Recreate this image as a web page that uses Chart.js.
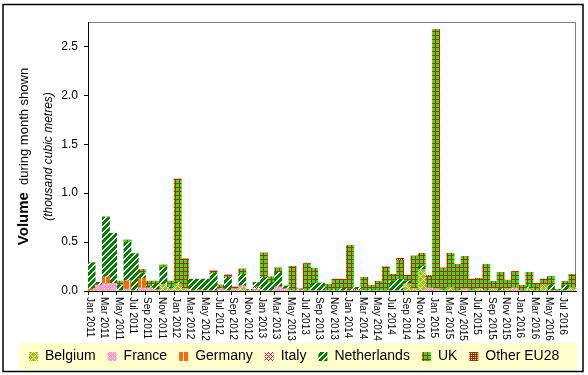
<!DOCTYPE html>
<html>
<head>
<meta charset="utf-8">
<script src="https://cdn.jsdelivr.net/npm/chart.js@4/dist/chart.umd.min.js"></script>
<style>
  body { margin: 0; background: #fff; }
  canvas { display: block; }
</style>
</head>
<body>
<canvas id="chart" width="588" height="375"></canvas>
<script>
// Monthly volumes (thousand cubic metres), Jan 2011 - Aug 2016
const months = [
    'Jan 2011', 'Feb 2011', 'Mar 2011', 'Apr 2011', 'May 2011', 'Jun 2011', 'Jul 2011', 'Aug 2011', 'Sep 2011', 'Oct 2011', 'Nov 2011', 'Dec 2011',
    'Jan 2012', 'Feb 2012', 'Mar 2012', 'Apr 2012', 'May 2012', 'Jun 2012', 'Jul 2012', 'Aug 2012', 'Sep 2012', 'Oct 2012', 'Nov 2012', 'Dec 2012',
    'Jan 2013', 'Feb 2013', 'Mar 2013', 'Apr 2013', 'May 2013', 'Jun 2013', 'Jul 2013', 'Aug 2013', 'Sep 2013', 'Oct 2013', 'Nov 2013', 'Dec 2013',
    'Jan 2014', 'Feb 2014', 'Mar 2014', 'Apr 2014', 'May 2014', 'Jun 2014', 'Jul 2014', 'Aug 2014', 'Sep 2014', 'Oct 2014', 'Nov 2014', 'Dec 2014',
    'Jan 2015', 'Feb 2015', 'Mar 2015', 'Apr 2015', 'May 2015', 'Jun 2015', 'Jul 2015', 'Aug 2015', 'Sep 2015', 'Oct 2015', 'Nov 2015', 'Dec 2015',
    'Jan 2016', 'Feb 2016', 'Mar 2016', 'Apr 2016', 'May 2016', 'Jun 2016', 'Jul 2016', 'Aug 2016'
];

const belgium = [
    0, 0, 0, 0, 0, 0, 0, 0, 0, 0, 0.068, 0.02,
    0.07, 0.02, 0, 0, 0, 0, 0, 0, 0, 0.03, 0.005, 0.01,
    0, 0, 0, 0, 0, 0, 0, 0, 0, 0, 0, 0,
    0, 0, 0, 0, 0, 0, 0, 0, 0.07, 0.02, 0.214, 0,
    0, 0, 0.03, 0, 0, 0, 0.02, 0, 0.02, 0, 0.02, 0,
    0, 0.02, 0, 0.06, 0, 0, 0, 0.03
];
const france = [
    0, 0.06, 0.078, 0.078, 0, 0.02, 0, 0.03, 0.03, 0.01, 0, 0,
    0, 0, 0, 0.01, 0, 0, 0.02, 0, 0.02, 0.02, 0, 0,
    0, 0, 0.04, 0.02, 0, 0.01, 0, 0, 0, 0, 0, 0,
    0, 0, 0, 0, 0, 0, 0, 0, 0, 0, 0, 0.03,
    0.02, 0, 0, 0, 0.02, 0, 0, 0, 0, 0, 0, 0.03,
    0, 0, 0, 0, 0, 0, 0, 0
];
const germany = [
    0.02, 0, 0.065, 0, 0, 0.085, 0, 0.10, 0, 0, 0, 0,
    0, 0, 0, 0, 0, 0, 0, 0, 0, 0, 0, 0,
    0, 0, 0, 0, 0, 0, 0, 0, 0, 0, 0, 0,
    0, 0, 0, 0, 0, 0, 0, 0, 0, 0, 0, 0,
    0, 0, 0, 0, 0, 0, 0, 0, 0, 0, 0, 0,
    0, 0, 0, 0, 0, 0, 0, 0
];
const italy = [
    0, 0, 0, 0, 0, 0, 0, 0, 0, 0, 0, 0,
    0, 0, 0, 0, 0, 0, 0, 0, 0, 0, 0, 0.03,
    0, 0, 0, 0, 0, 0, 0, 0, 0, 0, 0, 0,
    0, 0.017, 0, 0, 0, 0, 0, 0, 0, 0, 0, 0,
    0, 0, 0, 0, 0, 0, 0, 0, 0, 0, 0, 0,
    0, 0, 0, 0, 0, 0, 0, 0
];
const netherlands = [
    0.266, 0.028, 0.612, 0.512, 0.06, 0.395, 0.38, 0.05, 0.02, 0.06, 0.17, 0.02,
    0.02, 0, 0.12, 0.11, 0.12, 0.18, 0.01, 0.14, 0, 0.12, 0.01, 0.045,
    0.14, 0.09, 0.15, 0.03, 0, 0.01, 0, 0.08, 0.08, 0, 0.01, 0.03,
    0.02, 0.02, 0, 0.01, 0, 0, 0.10, 0.12, 0.03, 0, 0.04, 0,
    0, 0, 0, 0, 0, 0, 0, 0, 0, 0.02, 0, 0,
    0, 0.02, 0, 0, 0.06, 0, 0.06, 0
];
const uk = [
    0, 0, 0, 0, 0.04, 0.02, 0, 0.04, 0.05, 0.03, 0.027, 0.06,
    1.053, 0.307, 0, 0, 0, 0.024, 0.03, 0.023, 0.02, 0.054, 0, 0,
    0.248, 0.053, 0.045, 0, 0.25, 0, 0.28, 0.15, 0, 0.068, 0.11, 0.09,
    0.446, 0, 0.14, 0.048, 0.098, 0.245, 0.07, 0.19, 0.06, 0.337, 0.131, 0.11,
    2.653, 0.235, 0.355, 0.27, 0.334, 0.12, 0.11, 0.27, 0.078, 0.17, 0.09, 0.17,
    0.058, 0.15, 0.078, 0.06, 0.09, 0.017, 0.038, 0.14
];
const otherEU28 = [
    0, 0, 0, 0, 0, 0, 0, 0, 0, 0, 0, 0,
    0, 0, 0, 0, 0, 0, 0, 0, 0, 0, 0, 0,
    0, 0, 0, 0, 0, 0, 0, 0, 0, 0, 0, 0,
    0, 0, 0, 0, 0, 0, 0, 0.025, 0, 0, 0, 0.02,
    0, 0, 0, 0, 0, 0, 0, 0, 0, 0, 0, 0,
    0, 0, 0, 0, 0, 0, 0, 0
];

const FONT = '"Liberation Sans", Arial, sans-serif';

// small pixel tiles, Excel-like fill patterns
function hexRgb(h) {
    return [parseInt(h.slice(1, 3), 16), parseInt(h.slice(3, 5), 16), parseInt(h.slice(5, 7), 16)];
}
function makePattern(w, h, fn) {
    const c = document.createElement('canvas');
    c.width = w; c.height = h;
    const g = c.getContext('2d');
    const img = g.createImageData(w, h);
    for (let y = 0; y < h; y++) {
        for (let x = 0; x < w; x++) {
            const [r, gg, b] = hexRgb(fn(x, y));
            const k = (y * w + x) * 4;
            img.data[k] = r; img.data[k + 1] = gg; img.data[k + 2] = b; img.data[k + 3] = 255;
        }
    }
    g.putImageData(img, 0, 0);
    return g.createPattern(c, 'repeat');
}

const ctx = document.getElementById('chart').getContext('2d');
const pat = {
    belgium: makePattern(6, 6, (x, y) => ((x + y) % 6 === 0 || (x - y + 6) % 6 === 0) ? '#FFFFFF' : '#99CC00'),
    france: makePattern(4, 4, (x, y) => ((x === 0 && y === 0) || (x === 2 && y === 2)) ? '#FFFFFF' : '#FF99CC'),
    germany: makePattern(6, 2, (x) => x === 3 ? '#FFFFFF' : '#FF6600'),
    italy: makePattern(4, 4, (x, y) => (x % 2 === 0 && (x + y) % 4 === 0) || (x % 2 === 1 && y % 2 === 1) ? '#FF0000' : '#FFFFFF'),
    netherlands: makePattern(6, 6, (x, y) => (x + y) % 6 < 4 ? '#008000' : '#FFFFFF'),
    uk: makePattern(4, 4, (x, y) => (x === 3 || y === 3) ? '#FF0000' : '#00FF00'),
    other: makePattern(4, 4, (x, y) => (x % 2 === 1 && y % 2 === 1) ? '#FFCC99' : '#993300')
};

// background, legend band, frames
const framePlugin = {
    id: 'frame',
    beforeDraw(chart) {
        const { ctx, chartArea: a } = chart;
        ctx.save();
        ctx.fillStyle = '#FFFFFF';
        ctx.fillRect(0, 0, chart.width, chart.height);
        ctx.fillStyle = '#FFFFCC';
        ctx.fillRect(19, 343, 558, 28);
        ctx.strokeStyle = '#000';
        ctx.lineWidth = 1.5;
        ctx.strokeRect(3, 4.5, 580, 367);
        ctx.strokeStyle = '#808080';
        ctx.lineWidth = 1;
        ctx.beginPath();
        ctx.moveTo(a.left, a.top + 0.5);
        ctx.lineTo(a.right - 0.5, a.top + 0.5);
        ctx.lineTo(a.right - 0.5, a.bottom);
        ctx.stroke();
        ctx.restore();
    }
};

// rotated month labels (top to bottom) and the y title
const textPlugin = {
    id: 'texts',
    afterDraw(chart) {
        const { ctx, scales: { x }, chartArea: a } = chart;
        ctx.save();
        ctx.fillStyle = '#000';
        ctx.font = '10px ' + FONT;
        ctx.textAlign = 'left';
        ctx.textBaseline = 'middle';
        months.forEach((m, i) => {
            if (i % 2) return;
            ctx.save();
            ctx.translate(x.getPixelForValue(i) - 2, x.top + 6);
            ctx.rotate(Math.PI / 2);
            ctx.fillText(m, 0, 0);
            ctx.restore();
        });

        const midY = (a.top + a.bottom) / 2;
        ctx.textBaseline = 'alphabetic';
        ctx.save();
        ctx.translate(28, midY);
        ctx.rotate(-Math.PI / 2);
        const bold = 'bold 15px ' + FONT, norm = '13px ' + FONT;
        ctx.font = bold;
        const w1 = ctx.measureText('Volume').width;
        ctx.font = norm;
        const w2 = ctx.measureText('  during month shown').width;
        let sx = -(w1 + w2) / 2;
        ctx.font = bold;
        ctx.fillText('Volume', sx, 0);
        ctx.font = norm;
        ctx.fillText('  during month shown', sx + w1, 0);
        ctx.restore();

        ctx.save();
        ctx.translate(51.5, midY);
        ctx.rotate(-Math.PI / 2);
        ctx.font = 'italic 12px ' + FONT;
        ctx.textAlign = 'center';
        ctx.fillText('(thousand cubic metres)', 0, 0);
        ctx.restore();
        ctx.restore();
    }
};

const series = [
    ['Belgium', belgium, pat.belgium],
    ['France', france, pat.france],
    ['Germany', germany, pat.germany],
    ['Italy', italy, pat.italy],
    ['Netherlands', netherlands, pat.netherlands],
    ['UK', uk, pat.uk],
    ['Other EU28', otherEU28, pat.other]
];

new Chart(ctx, {
    type: 'bar',
    data: {
        labels: months,
        datasets: series.map(([label, data, fill]) => ({
            label,
            data,
            backgroundColor: fill,
            borderWidth: 0,
            barPercentage: 1,
            categoryPercentage: 1
        }))
    },
    options: {
        responsive: false,
        animation: false,
        layout: { padding: { left: 17, right: 12, top: 22, bottom: 1.5 } },
        scales: {
            x: {
                stacked: true,
                afterFit: s => { s.height = 46.5; },
                ticks: { display: false },
                grid: {
                    offset: true,
                    drawOnChartArea: false,
                    tickLength: 4,
                    color: c => (c.index % 2 === 0 ? '#000' : 'rgba(0,0,0,0)')
                },
                border: { color: '#000', width: 1 }
            },
            y: {
                stacked: true,
                min: 0,
                max: 2.75,
                afterFit: s => { s.width = 71; },
                afterBuildTicks: s => { s.ticks = s.ticks.filter(t => Math.abs(t.value * 2 - Math.round(t.value * 2)) < 1e-9); },
                ticks: {
                    stepSize: 0.5,
                    padding: 6,
                    color: '#000',
                    font: { family: FONT, size: 12 },
                    callback: v => Number(v).toFixed(1)
                },
                grid: { drawOnChartArea: false, tickLength: 4, color: '#000' },
                border: { color: '#000', width: 1 }
            }
        },
        plugins: {
            legend: {
                position: 'bottom',
                align: 'start',
                labels: {
                    boxWidth: 9,
                    boxHeight: 9,
                    padding: 12,
                    color: '#000',
                    font: { family: FONT, size: 14 }
                }
            },
            tooltip: { enabled: false }
        }
    },
    plugins: [framePlugin, textPlugin]
});
</script>
</body>
</html>
